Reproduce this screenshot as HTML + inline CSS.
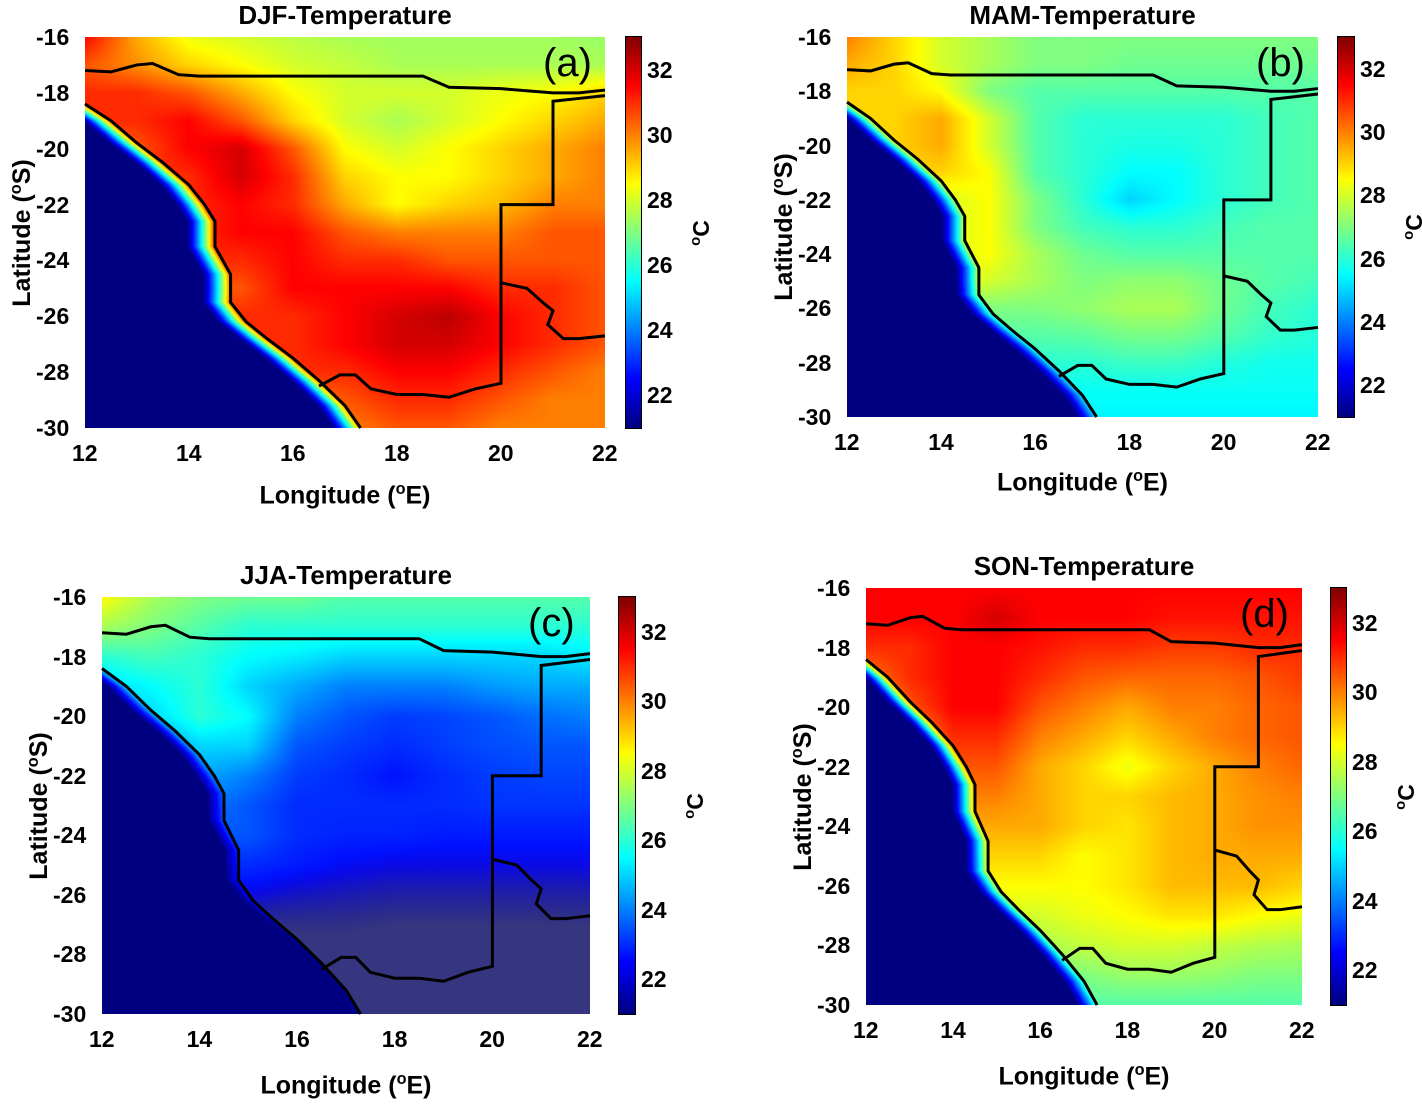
<!DOCTYPE html>
<html><head><meta charset="utf-8">
<style>
body{margin:0;background:#fff;width:1422px;height:1104px;position:relative;overflow:hidden;font-family:"Liberation Sans",sans-serif;}
.abs{position:absolute;}
.title{position:absolute;font-weight:bold;font-size:26px;transform:translateX(-50%);white-space:nowrap;}
.tick{position:absolute;font-weight:bold;font-size:23px;white-space:nowrap;}
.xl{position:absolute;font-weight:bold;font-size:25px;transform:translateX(-50%);white-space:nowrap;}
.yl{position:absolute;font-weight:bold;font-size:25px;transform:translate(-50%,-50%) rotate(-90deg);white-space:nowrap;}
.cl{position:absolute;font-weight:bold;font-size:23px;transform:translate(-50%,-50%) rotate(-90deg);white-space:nowrap;}
.pl{position:absolute;font-size:40px;white-space:nowrap;}
sup{font-size:65%;}
</style></head><body>
<div id="root"></div>
<script>
// data grids: rows lat -16..-30 (step 1), cols lon 12..22 (step 1), values in degC
const lons=[12,13,14,15,16,17,18,19,20,21,22];
const lats=[-16,-17,-18,-19,-20,-21,-22,-23,-24,-25,-26,-27,-28,-29,-30];
const cbTicks=[22,24,26,28,30,32];
const xTicks=[12,14,16,18,20,22];
const yTicks=[-16,-18,-20,-22,-24,-26,-28,-30];
const djf=[
[31.5,29.5,28.3,28,27.7,27.5,27.4,27.4,27.4,27.4,27.3],
[30.5,29.8,29,28.5,28,27.8,27.5,27.5,27.5,27.5,27.5],
[31,31,30.5,29.5,28.5,28,28,28,28.3,28.5,29],
[31,31,31.5,30.5,29,28,27.5,28,28.5,29,29.5],
[30,30.5,31.5,32,30.5,28.5,28,28.5,29,29.5,30],
[31,31,31,32,31,29,28.5,28.5,29,29.5,30],
[31,31,31,31.5,31,29.5,28.5,29,29.3,30,30],
[31,31,31,31.5,31.5,30.5,30,30,30,30.5,30.5],
[31,31,31,31,31.5,31,31,30.5,30.5,30.5,30.5],
[30.5,30.5,30.5,30.5,31.5,31.5,31.5,31.5,31,31,30.5],
[31,31,31,31,31,31.5,32,32.3,31.5,31,30.5],
[31,31,31,31,31,31.5,32,32,31.5,31,30.5],
[31,31,31,31,31,31,31.5,31.5,31,30.5,30],
[30,30,30,30,30,30.5,31,31,30.5,30,30],
[29.5,29.5,29.5,29.5,29.5,30,30.5,30.5,30,30,30]];
const mam=[
[30,29,28,27.5,27,27,27,27,27,27,27],
[29.5,29,28,27.5,27,27,26.8,26.8,26.8,26.8,26.8],
[29,29,28.5,27,26.5,26.5,26.5,26.5,26.5,26.5,26.5],
[29,29,29.5,28,26.5,26,26,26,26,26.3,26.5],
[29,29,29.5,28,26.5,26,25.8,25.8,26,26.3,26.5],
[29,29,29,28.5,26.5,26,25.5,25.5,26,26.3,26.5],
[28,28,28,28.5,27,26,25,25.5,26,26.3,26.5],
[28,28,28,28.5,27,26.3,26,26,26.3,26.5,26.5],
[28,28,28,28.5,27.5,26.8,26.5,26.5,26.5,26.5,26.5],
[28,28,28,28,27.5,27,27.2,27.2,26.8,26.5,26.3],
[27,27,27,27,27,27.2,27.5,27.5,26.8,26.3,26],
[26.5,26.5,26.5,26.5,26.5,26.6,26.9,26.9,26.5,26.1,25.9],
[26,26,26,26,26,26,26.2,26.2,25.9,25.7,25.7],
[25.6,25.6,25.6,25.6,25.6,25.6,25.6,25.6,25.6,25.6,25.6],
[25.4,25.4,25.4,25.4,25.4,25.4,25.4,25.4,25.4,25.4,25.4]];
const jja=[
[28.5,27.5,27,26.8,26.8,26.5,26.5,26.5,26.5,26.5,26.5],
[27.5,27,26.5,26,26,26,26,26,26,26,26],
[26,26.3,26,25.5,25.3,25,25,25,25,25,25.3],
[25,25.5,26,25,24.5,24,24,24,24.3,24.5,24.5],
[25,25,26,25.5,24,23.5,23.2,23.3,23.5,23.8,24],
[24,24,25,25,23.5,23.2,23,23.2,23.4,23.5,23.5],
[24.5,24.5,24.5,24,23.2,23,22.7,23,23.2,23.3,23.3],
[24,24,24,23.5,23,23,23,23,23.1,23.1,23.1],
[23.5,23.5,23.5,23.5,23,22.9,22.9,22.8,22.8,22.8,22.8],
[23,23,23,23,22.8,22.6,22.5,22.5,22.5,22.5,22.5],
[22.5,22.5,22.5,22.5,22.3,22.2,22.1,22.1,22.1,22.1,22.1],
[21.8,21.8,21.8,21.8,21.8,21.8,21.7,21.7,21.7,21.7,21.7],
[21.5,21.5,21.5,21.5,21.5,21.5,21.5,21.5,21.5,21.5,21.5],
[21.5,21.5,21.5,21.5,21.5,21.5,21.5,21.5,21.5,21.5,21.5],
[21.5,21.5,21.5,21.5,21.5,21.5,21.5,21.5,21.5,21.5,21.5]];
const son=[
[31.5,31.5,31.5,31.5,31.5,31.5,31.5,31.5,31.5,31.5,31.5],
[31.5,31.5,31.5,32,31.5,31.5,31.5,31.3,31.3,31.3,31.3],
[31,31,31.5,31.5,31.3,31,31,30.8,30.8,31,31],
[30,31,31.5,31.5,31,30.5,30.3,30.3,30.3,30.5,30.8],
[29,30.5,31.5,31.5,30.5,30,29.5,30,30,30.3,30.5],
[28,29.5,31,31,30,29.5,29,29.5,30,30.3,30.5],
[28,28.5,30.5,30.5,29.5,29,28.3,29,29.5,30,30.3],
[30,30,30,30,29.5,29,29,29.3,29.5,29.8,30],
[29.5,29.5,29.5,29.5,29.5,29,28.8,29.3,29.5,29.8,29.8],
[29,29,29,29,29,28.5,28.8,29.3,29.5,29.5,29.5],
[28.5,28.5,28.5,28.5,28.5,28.5,28.8,29.3,29.3,29.3,29],
[28,28,28,28,28,28.3,28.5,28.8,28.8,28.5,28.3],
[27.5,27.5,27.5,27.5,27.5,27.8,28,28,27.8,27.6,27.5],
[27,27,27,27,27,27,27.3,27.3,27.2,27,27],
[26.5,26.5,26.5,26.5,26.5,26.5,26.5,26.5,26.5,26.5,26.5]];
// geography (not chart data)
const coast=[[12,-18.4],[12.5,-19],[13,-19.8],[13.5,-20.5],[14,-21.3],[14.3,-22],[14.5,-22.6],[14.5,-23.5],[14.8,-24.5],[14.8,-25.5],[15.1,-26.2],[15.5,-26.8],[16,-27.5],[16.5,-28.3],[17,-29.2],[17.3,-30]];
const nb=[[12,-17.2],[12.5,-17.25],[13,-17.0],[13.3,-16.95],[13.8,-17.35],[14.2,-17.4],[18.5,-17.4],[19,-17.8],[20,-17.85],[21,-18.0],[21.5,-18.0],[22,-17.9]];
const eb=[[22,-18.1],[21.5,-18.2],[21,-18.3],[21,-22],[20,-22],[20,-28.4],[19.5,-28.6],[19,-28.9],[18.5,-28.8],[18,-28.8],[17.5,-28.6],[17.2,-28.1],[16.9,-28.1],[16.5,-28.5]];
const sb=[[20,-24.8],[20.5,-25],[20.8,-25.5],[21,-25.8],[20.9,-26.3],[21.2,-26.8],[21.5,-26.8],[22,-26.7]];

const panels=[
{id:'a',name:'DJF',data:djf,x0:85,x1:605,y0:37,y1:428,cbx:626,cbw:15,cbt:37,cbb:428,xlY:480},
{id:'b',name:'MAM',data:mam,x0:847,x1:1318,y0:37,y1:417,cbx:1338,cbw:16,cbt:37,cbb:417,xlY:467},
{id:'c',name:'JJA',data:jja,x0:102,x1:590,y0:597,y1:1014,cbx:619,cbw:16,cbt:597,cbb:1014,xlY:1070},
{id:'d',name:'SON',data:son,x0:866,x1:1302,y0:588,y1:1005,cbx:1331,cbw:15,cbt:588,cbb:1005,xlY:1061}];
const CMIN=21,CMAX=33;
function jet(v){let t=(v-CMIN)/(CMAX-CMIN);t=Math.max(0,Math.min(1,t));
 const c=x=>Math.round(255*Math.max(0,Math.min(1,x)));
 return [c(1.5-Math.abs(4*t-3)),c(1.5-Math.abs(4*t-2)),c(1.5-Math.abs(4*t-1))];}
function coastLon(lat){if(lat>coast[0][1])return 11;
 for(let i=0;i<coast.length-1;i++){const a=coast[i],b=coast[i+1];
  if(lat<=a[1]&&lat>=b[1]){const f=(a[1]-lat)/(a[1]-b[1]);return a[0]+f*(b[0]-a[0]);}}
 return coast[coast.length-1][0];}
function interp(g,lon,lat){let fi=-16-lat,fj=lon-12;
 fi=Math.max(0,Math.min(lats.length-1.0001,fi));fj=Math.max(0,Math.min(lons.length-1.0001,fj));
 const i=Math.floor(fi),j=Math.floor(fj),u=fi-i,w=fj-j;
 return g[i][j]*(1-u)*(1-w)+g[i][j+1]*(1-u)*w+g[i+1][j]*u*(1-w)+g[i+1][j+1]*u*w;}
const root=document.getElementById('root');
function mk(tag,cls,name,html){const e=document.createElement(tag);if(cls)e.className=cls;
 
 
 if(html!==undefined)e.innerHTML=html;root.appendChild(e);return e;}
panels.forEach(p=>{
 const W=p.x1-p.x0,H=p.y1-p.y0;
 const sx=lon=>p.x0+(lon-12)/10*W, sy=lat=>p.y0+(-16-lat)/14*H;
 const cv=mk('canvas','abs','heatmap-'+p.id);
 cv.width=W;cv.height=H;cv.style.left=p.x0+'px';cv.style.top=p.y0+'px';
 const ctx=cv.getContext('2d'),img=ctx.createImageData(W,H);
 for(let y=0;y<H;y++){const lat=-16-(y+0.5)/H*14,cl=coastLon(lat);
  for(let x=0;x<W;x++){const lon=12+(x+0.5)/W*10;let v=interp(p.data,lon,lat);
   const d=lon-cl;let c;
   if(d<0){let t=Math.max(0,1+d/0.8);v=19+(v-19)*Math.pow(t,1.6);c=jet(v);}
   else{c=jet(v);if(v<22.7){const m=Math.min(1,(22.7-v)/1.0);c=[c[0]*(1-m)+53*m,c[1]*(1-m)+53*m,c[2]*(1-m)+128*m];}}
   const k=(y*W+x)*4;img.data[k]=c[0];img.data[k+1]=c[1];img.data[k+2]=c[2];img.data[k+3]=255;}}
 ctx.putImageData(img,0,0);
 const NS='http://www.w3.org/2000/svg';
 const svg=document.createElementNS(NS,'svg');svg.setAttribute('class','abs');
 svg.setAttribute('width',1422);svg.setAttribute('height',1104);svg.style.left='0';svg.style.top='0';
 
 
 [[coast,'coastline'],[nb,'northern-border'],[eb,'eastern-border'],[sb,'southern-border']].forEach(([pts,nm])=>{
  const pl=document.createElementNS(NS,'polyline');
  pl.setAttribute('points',pts.map(q=>sx(q[0])+','+sy(q[1])).join(' '));
  pl.setAttribute('fill','none');pl.setAttribute('stroke','#000');pl.setAttribute('stroke-width','3');
  
  
  svg.appendChild(pl);});
 root.appendChild(svg);
 const cb=mk('canvas','abs','colorbar-'+p.id);const ch=p.cbb-p.cbt;
 cb.width=p.cbw;cb.height=ch;cb.style.left=p.cbx+'px';cb.style.top=p.cbt+'px';cb.style.outline='1px solid #000';
 const cc=cb.getContext('2d');for(let y=0;y<ch;y++){const v=CMAX-(y+0.5)/ch*(CMAX-CMIN),c=jet(v);
  cc.fillStyle='rgb('+c+')';cc.fillRect(0,y,p.cbw,1);}
 cbTicks.forEach(t=>{const yy=p.cbt+(CMAX-t)/(CMAX-CMIN)*ch;
  const e=mk('div','tick','colorbar-tick-'+t,t);e.style.left=(p.cbx+p.cbw+6)+'px';e.style.top=(yy-13)+'px';});
 const cl=mk('div','cl','colorbar-unit','<sup>o</sup>C');cl.style.left=(p.cbx+p.cbw+60)+'px';cl.style.top=(p.cbt+ch/2)+'px';
 xTicks.forEach(t=>{const e=mk('div','tick','x-tick-'+t,t);e.style.left=(sx(t)-13)+'px';e.style.top=(p.y1+12)+'px';});
 yTicks.forEach(t=>{const e=mk('div','tick','y-tick-'+t,t);e.style.left=(p.x0-49)+'px';e.style.top=(sy(t)-13)+'px';});
 const xl=mk('div','xl','x-axis-title','Longitude (<sup>o</sup>E)');xl.style.left=(p.x0+W/2)+'px';xl.style.top=p.xlY+'px';
 const yl=mk('div','yl','y-axis-title','Latitude (<sup>o</sup>S)');yl.style.left=(p.x0-63)+'px';yl.style.top=(p.y0+H/2)+'px';
 const ti=mk('div','title','panel-title',p.name+'-Temperature');ti.style.left=(p.x0+W/2)+'px';ti.style.top=(p.y0-37)+'px';
 const pl=mk('div','pl','panel-label','('+p.id+')');pl.style.left=(p.x1-62)+'px';pl.style.top=(p.y0+4)+'px';
});
</script>
</body></html>
